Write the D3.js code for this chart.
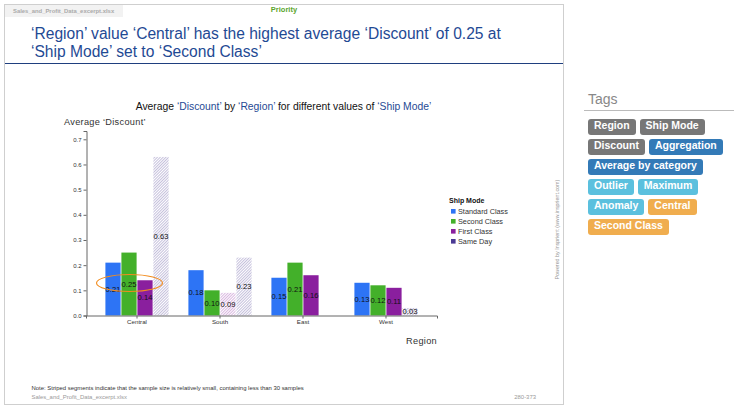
<!DOCTYPE html>
<html><head><meta charset="utf-8">
<script src="https://cdn.jsdelivr.net/npm/d3@7/dist/d3.min.js"></script>
<style>
html,body{margin:0;padding:0;background:#fff;overflow:hidden}
body{width:738px;height:409px;position:relative;font-family:"Liberation Sans",Arial,sans-serif}
svg{position:absolute;left:0;top:0}
#tags{position:absolute;left:588px;top:119px;width:146px;display:flex;flex-wrap:wrap;column-gap:4px;row-gap:4px}
#tags span{display:block;height:16px;padding:0 6px;border-radius:3px;color:#fff;font:bold 10.5px/13px "Liberation Sans",Arial,sans-serif;box-sizing:border-box}
</style></head><body>
<svg id="c" width="738" height="409"></svg>
<div id="tags"></div>
<script>
const regions = ["Central","South","East","West"];
const modes = ["Standard Class","Second Class","First Class","Same Day"];
const standardClass = [0.21,0.18,0.15,0.13];
const secondClass = [0.25,0.10,0.21,0.12];
const firstClass = [0.14,0.09,0.16,0.11];
const sameDay = [0.63,0.23,null,0.03];
const striped = {"South|First Class":true,"Central|Same Day":true,"South|Same Day":true,"West|Same Day":true};
const modeColors = ["#2d74f5","#43b02a","#8a1f9e","#4b3a94"];
const yTicks = [0,0.1,0.2,0.3,0.4,0.5,0.6,0.7];
const tagNames = ["Region","Ship Mode","Discount","Aggregation","Average by category","Outlier","Maximum","Anomaly","Central","Second Class"];
const tagColors = ["#777777","#777777","#777777","#337ab7","#337ab7","#5bc0de","#5bc0de","#5bc0de","#f0ad4e","#f0ad4e"];

const svg = d3.select("#c");
const defs = svg.append("defs");
modeColors.forEach((col,i)=>{
  const p = defs.append("pattern").attr("id","h"+i).attr("patternUnits","userSpaceOnUse")
    .attr("width",2).attr("height",2).attr("patternTransform","rotate(45)");
  p.append("rect").attr("width",2).attr("height",2).attr("fill","#fff");
  p.append("rect").attr("width",1).attr("height",2).attr("fill",col).attr("opacity",0.32);
});

// frame
svg.append("rect").attr("x",4.5).attr("y",4.5).attr("width",559).attr("height",400).attr("fill","none").attr("stroke","#cfcfcf");
svg.append("rect").attr("x",5).attr("y",5).attr("width",118).attr("height",12).attr("fill","#f2f2f2");
svg.append("text").attr("x",13).attr("y",13).attr("font-size",5.9).attr("font-weight","bold").attr("fill","#aaa").text("Sales_and_Profit_Data_excerpt.xlsx");
svg.append("text").attr("x",284).attr("y",11.5).attr("text-anchor","middle").attr("font-size",7.5).attr("font-weight","bold").attr("fill","#5aa52c").text("Priority");
const titleLines = ["‘Region’ value ‘Central’ has the highest average ‘Discount’ of 0.25 at","‘Ship Mode’ set to ‘Second Class’"];
svg.selectAll(".tl").data(titleLines).join("text").attr("x",31).attr("y",(d,i)=>39+i*18)
  .attr("font-size",15.6).attr("fill","#1f4a94").text(d=>d);
svg.append("line").attr("x1",5).attr("x2",563).attr("y1",63.5).attr("y2",63.5).attr("stroke","#1f3f7f").attr("stroke-width",1);

// subtitle
const sub = svg.append("text").attr("x",283.5).attr("y",110).attr("text-anchor","middle").attr("font-size",10.35).attr("fill","#111");
[["Average ",0],["‘Discount’",1],[" by ",0],["‘Region’",1],[" for different values of ",0],["‘Ship Mode’",1]].forEach(([t,b])=>{
  sub.append("tspan").attr("fill",b?"#1f4a94":"#111").text(t);
});

// scales
const x0 = d3.scaleBand().domain(regions).range([86,437]).paddingInner(0.229).paddingOuter(0.229);
const x1 = d3.scaleBand().domain(modes).range([0,x0.bandwidth()]);
const y = d3.scaleLinear().domain([0,0.733]).range([315.5,131]);

const seriesVals = [standardClass,secondClass,firstClass,sameDay];
const rows = [];
regions.forEach((r,ri)=>modes.forEach((m,mi)=>{
  const v = seriesVals[mi][ri];
  if(v!==null) rows.push({r,m,mi,v});
}));
const fillOf = d=>striped[d.r+"|"+d.m] ? `url(#h${d.mi})` : modeColors[d.mi];
svg.append("g").selectAll("rect").data(rows).join("rect")
  .attr("x",d=>x0(d.r)+x1(d.m)+0.4).attr("width",x1.bandwidth()-0.8)
  .attr("y",d=>y(d.v)).attr("height",d=>y(0)-y(d.v)).attr("fill",fillOf);
svg.append("g").selectAll("text").data(rows).join("text")
  .attr("x",d=>x0(d.r)+x1(d.m)+x1.bandwidth()/2).attr("y",d=>(y(d.v)+y(0))/2+2.6)
  .attr("text-anchor","middle").attr("font-size",7.6).attr("fill","#111").text(d=>d.v.toFixed(2));

// axes
const gy = svg.append("g").attr("transform","translate(86.5,0)").call(d3.axisLeft(y).tickValues(yTicks).tickSize(3).tickPadding(2).tickFormat(d3.format(".1f")));
gy.selectAll("text").attr("font-size",6).attr("font-family","Liberation Sans").attr("fill","#333");
gy.selectAll("line,path").attr("stroke","#666");
const gx = svg.append("g").attr("transform","translate(0,315.5)").call(d3.axisBottom(x0).tickSize(3).tickPadding(1));
gx.selectAll("text").attr("font-size",6.2).attr("font-family","Liberation Sans").attr("fill","#333");
gx.selectAll("line,path").attr("stroke","#666");
svg.append("text").attr("x",64).attr("y",125).attr("font-size",9.2).attr("letter-spacing",".3").attr("fill","#333").text("Average ‘Discount’");
svg.append("text").attr("x",437).attr("y",344).attr("text-anchor","end").attr("font-size",9.2).attr("letter-spacing",".3").attr("fill","#333").text("Region");

// annotation
svg.append("ellipse").attr("cx",129.5).attr("cy",283).attr("rx",33).attr("ry",8.5).attr("fill","none").attr("stroke","#f28c1e").attr("stroke-width",1.1);

// legend
svg.append("text").attr("x",449).attr("y",203).attr("font-size",7).attr("font-weight","bold").attr("fill","#111").text("Ship Mode");
const lg = svg.append("g").selectAll("g").data(modes).join("g").attr("transform",(d,i)=>`translate(451,${209+i*10})`);
lg.append("rect").attr("width",4.6).attr("height",4.6).attr("fill",(d,i)=>modeColors[i]);
lg.append("text").attr("x",7).attr("y",4.9).attr("font-size",7.3).attr("fill","#333").text(d=>d);

svg.append("text").attr("transform","translate(558.5,279.5) rotate(-90)").attr("font-size",5.35).attr("fill","#999").text("Powered by Insprient (www.insprient.com)");

// footer
svg.append("text").attr("x",31.5).attr("y",390).attr("font-size",5.93).attr("fill","#333").text("Note: Striped segments indicate that the sample size is relatively small, containing less than 30 samples");
svg.append("text").attr("x",31.5).attr("y",399).attr("font-size",5.93).attr("fill","#999").text("Sales_and_Profit_Data_excerpt.xlsx");
svg.append("text").attr("x",536).attr("y",399).attr("text-anchor","end").attr("font-size",5.93).attr("fill","#999").text("280-373");

// tags
svg.append("text").attr("x",588).attr("y",104).attr("font-size",14).attr("fill","#888").text("Tags");
svg.append("line").attr("x1",584).attr("x2",734).attr("y1",110.5).attr("y2",110.5).attr("stroke","#bbb");
d3.select("#tags").selectAll("span").data(tagNames).join("span")
  .style("background",(d,i)=>tagColors[i]).text(d=>d);
</script>
</body></html>
